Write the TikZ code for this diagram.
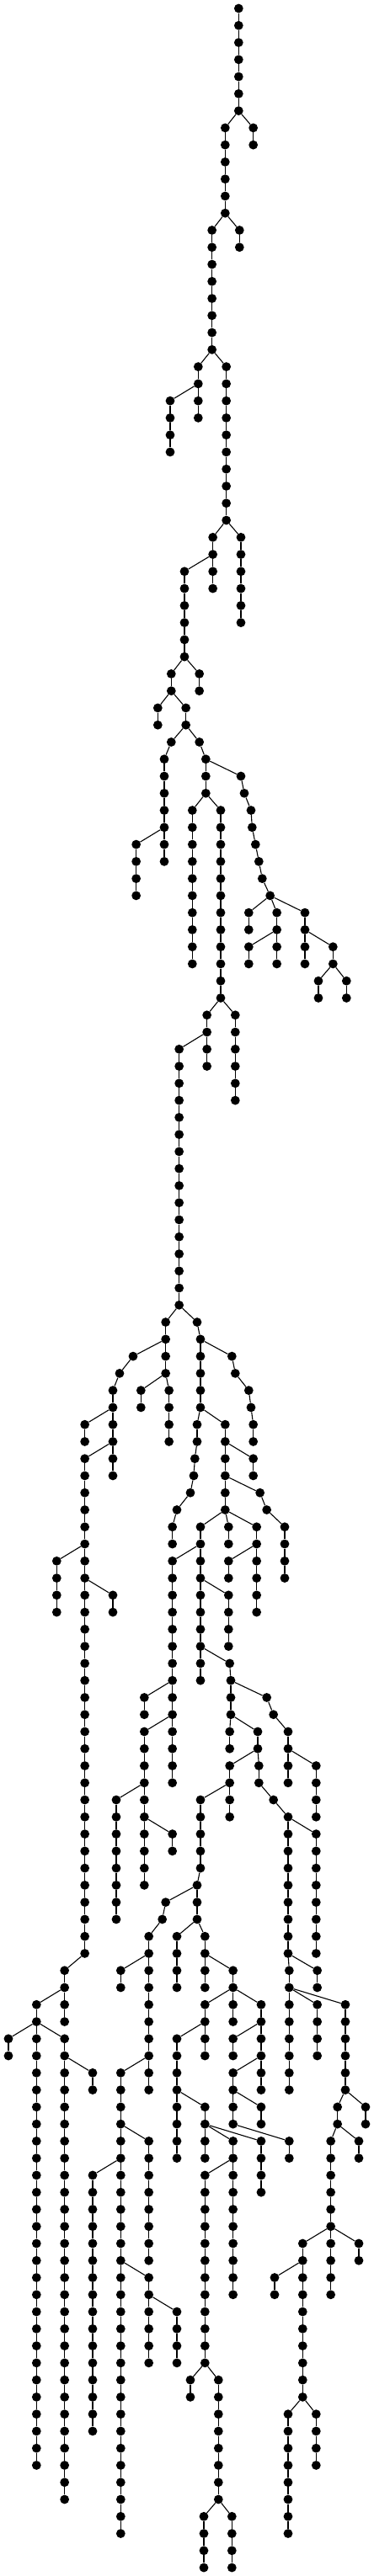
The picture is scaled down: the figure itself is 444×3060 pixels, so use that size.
\documentclass[tikz,border=0pt]{standalone}
\tikzset{dot/.style={circle,fill=black,draw=none,inner sep=0pt,minimum size=10.8pt},
  edge/.style={line width=1.1pt,black}}
\newcommand\dotn[3]{\node[dot] (#1) at (#2,#3) {};}
\newcommand\edg[2]{\draw[edge] (#1) -- (#2);}
\newcommand\vchain[4]{%
  \foreach \rr in {#3,...,#4}{\node[dot] (#1-\rr) at (#2,\rr) {};}%
  \foreach \rr in {#3,...,#4}{\ifnum\rr>#3 \pgfmathtruncatemacro\pr{\rr-1}\draw[edge] (#1-\pr) -- (#1-\rr);\fi}%
}
\begin{document}
\begin{tikzpicture}
\useasboundingbox (0pt,0pt) rectangle (444pt,-3060pt);
\begin{scope}[x=0.333333pt,y=-20.267pt,yshift=-10pt]
% top
\vchain{a}{850}{0}{6}
\vchain{b}{902}{7}{8} \edg{a-6}{b-7}
\vchain{c}{802}{7}{12} \edg{a-6}{c-7}
\vchain{d}{853}{13}{14} \edg{c-12}{d-13}
\vchain{e}{755}{13}{20} \edg{c-12}{e-13}
\vchain{f}{706}{21}{24} \edg{e-20}{f-21}
\vchain{g}{806}{21}{30} \edg{e-20}{g-21}
\vchain{h}{606}{23}{26} \edg{f-22}{h-23}
\vchain{i}{858}{31}{36} \edg{g-30}{i-31}
\vchain{j}{758}{31}{34} \edg{g-30}{j-31}
\vchain{k}{657}{33}{38} \edg{j-32}{k-33}
\vchain{l}{710}{39}{40} \edg{k-38}{l-39}
\vchain{m}{610}{39}{40} \edg{k-38}{m-39}
\vchain{n}{562}{41}{42} \edg{m-40}{n-41}
\vchain{o}{662}{41}{42} \edg{m-40}{o-41}
\dotn{p43}{610}{43} \edg{o-42}{p43}
\vchain{q}{585}{44}{50} \edg{p43}{q-44}
\vchain{r}{485}{49}{52} \edg{q-48}{r-49}
\dotn{s43}{710}{43} \edg{o-42}{s43}
\vchain{t}{733}{44}{46} \edg{s43}{t-44}
\vchain{u}{685}{47}{56} \edg{t-46}{u-47}
\vchain{v}{786}{47}{58} \edg{t-46}{v-47}
\dotn{w45}{858}{45} \dotn{w46}{870}{46} \dotn{w47}{894}{47} \dotn{w48}{898}{48}
\dotn{w49}{910}{49} \dotn{w50}{922}{50} \dotn{w51}{934}{51} \dotn{w52}{962}{52}
\edg{t-44}{w45} \edg{w45}{w46} \edg{w46}{w47} \edg{w47}{w48} \edg{w48}{w49}
\edg{w49}{w50} \edg{w50}{w51} \edg{w51}{w52}
\vchain{xa}{886}{53}{54} \edg{w52}{xa-53}
\vchain{xb}{986}{53}{56} \edg{w52}{xb-53}
\vchain{xc}{886}{55}{56} \edg{xb-54}{xc-55}
\vchain{xd}{1086}{53}{56} \edg{w52}{xd-53}
\vchain{xe}{1186}{55}{56} \edg{xd-54}{xe-55}
\vchain{xf}{1134}{57}{58} \edg{xe-56}{xf-57}
\vchain{xg}{1234}{57}{58} \edg{xe-56}{xg-57}
\vchain{ya}{838}{59}{64} \edg{v-58}{ya-59}
\vchain{yb}{737}{59}{62} \edg{v-58}{yb-59}
\vchain{yc}{638}{61}{76} \edg{yb-60}{yc-61}
% lower left
\vchain{za}{590}{77}{80} \edg{yc-76}{za-77}
\dotn{a79}{474}{79} \edg{za-78}{a79}
\dotn{a80}{426}{80} \edg{a79}{a80}
\vchain{zb}{402}{81}{86} \edg{a80}{zb-81}
\vchain{zc}{302}{83}{84} \edg{zb-82}{zc-83}
\vchain{zd}{302}{85}{114} \edg{zb-84}{zd-85}
\vchain{ze}{202}{91}{94} \edg{zd-90}{ze-91}
\vchain{zf}{402}{93}{94} \edg{zd-92}{zf-93}
\vchain{zg}{230}{115}{118} \edg{zd-114}{zg-115}
\vchain{zh}{130}{117}{144} \edg{zg-116}{zh-117}
\vchain{zi}{30}{119}{120} \edg{zh-118}{zi-119}
\vchain{zj}{230}{119}{146} \edg{zh-118}{zj-119}
\vchain{zk}{330}{121}{122} \edg{zj-120}{zk-121}
\vchain{zl}{502}{81}{82} \edg{za-80}{zl-81}
\vchain{zm}{602}{81}{84} \edg{za-80}{zm-81}
% right of yc-76
\dotn{c77}{702}{77} \edg{yc-76}{c77}
\vchain{da}{714}{78}{82} \edg{c77}{da-78}
\dotn{d79}{826}{79} \dotn{d80}{838}{80} \dotn{d81}{886}{81} \dotn{d82}{894}{82}
\dotn{d83}{902}{83} \dotn{d84}{902}{84}
\edg{da-78}{d79} \edg{d79}{d80} \edg{d80}{d81} \edg{d81}{d82} \edg{d82}{d83} \edg{d83}{d84}
\dotn{e83}{702}{83} \dotn{e84}{702}{84} \dotn{e85}{694}{85} \dotn{e86}{690}{86}
\dotn{e87}{678}{87} \dotn{e88}{630}{88} \dotn{e89}{614}{89} \dotn{e90}{614}{90}
\edg{da-82}{e83} \edg{e83}{e84} \edg{e84}{e85} \edg{e85}{e86} \edg{e86}{e87}
\edg{e87}{e88} \edg{e88}{e89} \edg{e89}{e90}
\vchain{db}{802}{83}{88} \edg{da-82}{db-83}
\vchain{dc}{902}{85}{86} \edg{db-84}{dc-85}
\dotn{f87}{926}{87} \dotn{f88}{950}{88}
\vchain{fa}{1014}{89}{92}
\edg{db-86}{f87} \edg{f87}{f88} \edg{f88}{fa-89}
\vchain{ga}{814}{89}{90} \edg{db-88}{ga-89}
\vchain{gb}{714}{89}{98} \edg{db-88}{gb-89}
\vchain{gj}{914}{89}{94} \edg{db-88}{gj-89}
\vchain{gk}{814}{91}{92} \edg{gj-90}{gk-91}
\vchain{gc}{614}{91}{100} \edg{gb-90}{gc-91}
\vchain{gd}{514}{99}{100} \edg{gc-98}{gd-99}
\vchain{ge}{514}{101}{110} \edg{gc-100}{ge-101}
\vchain{gf}{614}{101}{104} \edg{gc-100}{gf-101}
\vchain{gg}{414}{105}{112} \edg{ge-104}{gg-105}
\vchain{gh}{614}{107}{108} \edg{ge-106}{gh-107}
\vchain{gi}{814}{93}{96} \edg{gb-92}{gi-93}
\dotn{h97}{818}{97} \edg{gb-96}{h97}
\vchain{ha}{822}{98}{100} \edg{h97}{ha-98}
\dotn{i99}{950}{99} \edg{ha-98}{i99}
\dotn{i100}{974}{100} \edg{i99}{i100}
\vchain{ia}{1026}{101}{104} \edg{i100}{ia-101}
\vchain{ib}{1126}{103}{106} \edg{ia-102}{ib-103}
\vchain{ja}{818}{101}{102} \edg{ha-100}{ja-101}
\vchain{jb}{918}{101}{102} \edg{ha-100}{jb-101}
\dotn{j103}{922}{103} \edg{jb-102}{j103}
\dotn{j104}{922}{104} \edg{j103}{j104}
\dotn{j105}{974}{105} \edg{j104}{j105}
\vchain{jc}{1026}{106}{114} \edg{j105}{jc-106}
\vchain{jd}{1126}{107}{114} \edg{jc-106}{jd-107}
\vchain{je}{818}{103}{106} \edg{jb-102}{je-103}
\vchain{jf}{714}{105}{109} \edg{je-104}{jf-105}
\vchain{jg}{702}{110}{112} \edg{jf-109}{jg-110}
\dotn{k111}{590}{111} \edg{jg-110}{k111}
\dotn{k112}{578}{112} \edg{k111}{k112}
\vchain{ka}{530}{113}{122} \edg{k112}{ka-113}
\vchain{kb}{430}{115}{116} \edg{ka-114}{kb-115}
\vchain{kc}{430}{121}{148} \edg{ka-120}{kc-121}
\vchain{kd}{530}{125}{132} \edg{kc-124}{kd-125}
\vchain{ke}{330}{127}{142} \edg{kc-126}{ke-127}
\vchain{kf}{530}{133}{138} \edg{kc-132}{kf-133}
\vchain{kg}{630}{135}{138} \edg{kf-134}{kg-135}
\vchain{la}{630}{113}{116} \edg{jg-112}{la-113}
\vchain{lb}{730}{113}{116} \edg{jg-112}{lb-113}
\vchain{lc}{830}{115}{118} \edg{lb-114}{lc-115}
\vchain{ld}{730}{117}{120} \edg{lc-116}{ld-117}
\vchain{le}{930}{117}{122} \edg{lc-116}{le-117}
\vchain{lf}{630}{119}{126} \edg{ld-118}{lf-119}
\vchain{lg}{730}{123}{124} \edg{lf-122}{lg-123}
\vchain{lh}{830}{119}{120} \edg{le-118}{lh-119}
\vchain{li}{830}{121}{124} \edg{le-120}{li-121}
\vchain{lj}{930}{123}{124} \edg{li-122}{lj-123}
\vchain{lk}{730}{125}{126} \edg{lg-124}{lk-125}
\vchain{ll}{830}{125}{126} \edg{lg-124}{ll-125}
\vchain{lm}{930}{125}{128} \edg{lg-124}{lm-125}
\vchain{ln}{1030}{125}{126} \edg{li-124}{ln-125}
\vchain{mo}{730}{127}{138} \edg{ll-126}{mo-127}
\vchain{mp}{830}{127}{134} \edg{ll-126}{mp-127}
\vchain{mq}{678}{139}{140} \edg{mo-138}{mq-139}
\vchain{mr}{778}{139}{146} \edg{mo-138}{mr-139}
\vchain{ms}{726}{147}{150} \edg{mr-146}{ms-147}
\vchain{mt}{826}{147}{150} \edg{mr-146}{mt-147}
% far right
\vchain{na}{1130}{115}{116} \edg{jc-114}{na-115}
\vchain{nb}{1030}{115}{116} \edg{jc-114}{nb-115}
\vchain{nc}{1030}{117}{122} \edg{nb-116}{nc-117}
\vchain{nd}{1130}{117}{120} \edg{nb-116}{nd-117}
\vchain{ne}{1230}{117}{122} \edg{nb-116}{ne-117}
\vchain{nf}{1302}{123}{124} \edg{ne-122}{nf-123}
\vchain{ng}{1202}{123}{124} \edg{ne-122}{ng-123}
\vchain{nh}{1278}{125}{126} \edg{ng-124}{nh-125}
\vchain{ni}{1178}{125}{134} \edg{ng-124}{ni-125}
\vchain{nj}{1278}{131}{132} \edg{ni-130}{nj-131}
\vchain{nk}{1078}{131}{140} \edg{ni-130}{nk-131}
\vchain{nl}{978}{133}{134} \edg{nk-132}{nl-133}
\vchain{nm}{1026}{141}{148} \edg{nk-140}{nm-141}
\vchain{nn}{1126}{141}{144} \edg{nk-140}{nn-141}
\end{scope}
\end{tikzpicture}
\end{document}
